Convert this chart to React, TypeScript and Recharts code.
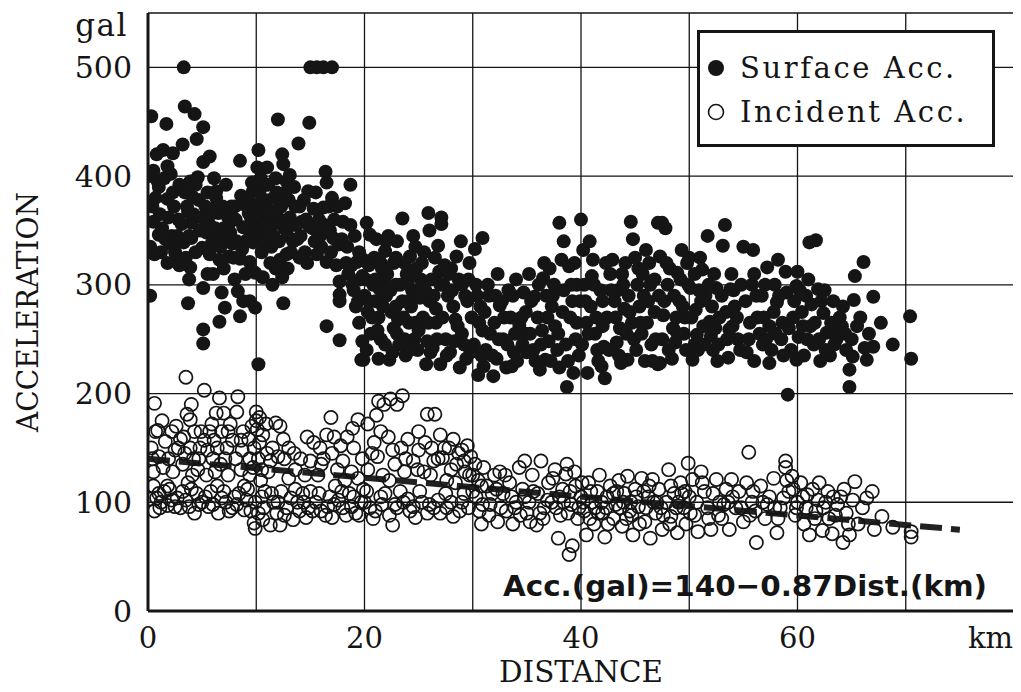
import { ScatterChart, Scatter, XAxis, YAxis, CartesianGrid, ReferenceLine, Legend, Label } from "recharts";

// distance (km), acceleration (gal)
const SURFACE_ACC: number[][] = [
  [0.2, 290], [0.3, 455], [0.3, 400], [0.5, 405], [0.5, 358], [0.6, 328], [0.8, 420], [0.9, 395], [1.0, 390], [1.0, 346],
  [1.2, 330], [1.4, 424], [1.7, 448], [1.8, 409], [1.8, 379], [1.8, 320], [2.2, 345], [2.3, 421], [2.3, 385], [2.5, 330],
  [2.6, 323], [2.8, 360], [3.0, 340], [3.2, 429], [3.3, 500], [3.3, 339], [3.4, 464], [3.6, 372], [3.7, 367], [3.7, 283],
  [3.8, 305], [3.9, 395], [3.9, 316], [4.0, 357], [4.0, 343], [4.1, 381], [4.3, 457], [4.5, 434], [4.6, 399], [4.8, 350],
  [5.0, 334], [5.1, 445], [5.1, 413], [5.1, 297], [5.1, 259], [5.1, 246],
  [0.4, 372], [0.7, 380], [1.1, 365], [1.3, 352], [1.5, 398], [1.9, 362], [2.0, 338], [2.1, 402], [2.4, 372], [2.7, 345],
  [2.9, 392], [3.1, 356], [3.4, 385], [3.5, 325], [3.8, 345], [4.2, 365], [4.4, 330], [4.7, 378], [4.9, 362], [0.2, 335],
  [1.6, 342], [2.9, 318], [4.4, 392],
  [5.5, 385], [5.7, 418], [5.7, 355], [5.7, 328], [6.0, 370], [6.3, 386], [6.3, 380], [6.4, 344], [6.5, 366], [6.6, 323],
  [6.6, 266], [6.8, 293], [7.0, 352], [7.1, 279], [7.3, 344], [7.4, 362], [7.4, 354], [7.5, 326], [7.8, 338], [8.0, 372],
  [8.3, 294], [8.5, 414], [8.5, 324], [8.5, 271], [8.8, 374], [8.8, 353], [8.8, 285], [9.0, 340], [9.3, 366], [9.4, 321],
  [9.4, 285], [9.5, 362], [9.6, 394], [9.7, 386], [9.7, 339], [9.8, 352], [9.9, 311], [9.9, 279],
  [5.3, 372], [5.4, 348], [5.8, 365], [5.9, 338], [6.1, 398], [6.2, 352], [6.7, 335], [6.9, 372], [7.2, 392], [7.6, 348],
  [7.7, 372], [7.9, 325], [8.1, 360], [8.2, 340], [8.6, 382], [8.7, 333], [9.1, 352], [9.2, 378], [9.5, 345], [9.8, 368],
  [6.0, 310], [7.0, 315], [8.0, 305], [9.0, 310], [5.5, 310],
  [10.1, 408], [10.1, 374], [10.2, 424], [10.2, 227], [10.3, 386], [10.3, 360], [10.4, 345], [10.5, 330], [10.6, 355], [10.6, 307],
  [10.8, 392], [11.0, 408], [11.0, 370], [11.1, 340], [11.3, 320], [11.4, 335], [11.5, 355], [11.5, 300], [11.6, 380], [11.8, 398],
  [12.0, 452], [12.0, 362], [12.2, 383], [12.2, 358], [12.2, 323], [12.4, 420], [12.4, 307], [12.5, 411], [12.5, 283], [12.8, 395],
  [12.8, 328], [13.1, 401], [13.1, 362], [13.4, 340], [13.6, 372], [13.8, 342], [13.9, 430], [14.2, 358], [14.5, 330], [14.7, 320],
  [14.8, 386], [14.9, 449], [14.9, 354],
  [10.0, 392], [10.2, 350], [10.4, 398], [10.5, 370], [10.7, 340], [10.8, 378], [10.9, 355], [11.1, 392], [11.2, 365], [11.3, 350],
  [11.6, 345], [11.7, 368], [11.9, 385], [12.1, 340], [12.3, 372], [12.6, 352], [12.7, 385], [12.9, 345], [13.0, 378], [13.3, 355],
  [13.5, 390], [13.7, 355], [14.0, 372], [14.1, 345], [14.4, 378], [14.6, 360], [13.2, 330], [14.0, 325], [11.8, 315], [12.9, 315],
  [15.0, 500], [15.3, 370], [15.6, 500], [15.6, 328], [15.9, 345], [16.2, 500], [16.2, 371], [16.4, 404], [16.5, 394], [16.5, 321],
  [16.5, 262], [16.8, 350], [17.0, 500], [17.0, 380], [17.1, 343], [17.6, 337], [17.7, 303], [17.7, 291], [17.7, 285], [17.7, 249],
  [18.0, 358], [18.3, 320], [18.5, 310], [18.7, 392], [18.7, 355], [18.9, 300], [19.0, 295], [19.2, 280], [19.3, 321], [19.4, 285],
  [19.5, 265], [19.6, 305], [19.7, 231], [19.8, 248], [19.9, 323], [19.9, 231], [20.0, 290], [20.3, 275],
  [15.2, 352], [15.5, 385], [15.8, 360], [16.0, 335], [16.3, 355], [16.7, 372], [16.9, 330], [17.2, 360], [17.4, 318], [17.9, 342],
  [18.2, 375], [18.4, 335], [18.8, 318], [19.1, 345], [19.5, 330], [19.8, 308], [15.4, 340], [17.5, 372],
  [20.2, 357], [20.5, 346], [21.1, 342], [21.9, 331], [22.9, 325], [23.5, 361], [24.2, 326], [24.7, 335], [20.4, 318], [20.8, 300],
  [21.0, 285], [21.3, 270], [20.6, 255], [20.2, 240], [21.5, 250], [21.8, 305], [22.0, 290], [22.3, 231], [22.5, 275], [22.7, 260],
  [22.9, 300], [23.2, 245], [23.5, 285], [23.8, 235], [23.9, 310], [24.1, 265], [24.4, 295], [24.6, 250], [24.8, 315], [20.9, 325],
  [21.6, 315], [22.2, 345], [23.0, 340], [23.7, 320], [24.3, 280], [24.9, 240], [22.6, 238], [21.3, 232], [21.4, 296], [23.1, 268],
  [24.0, 302],
  [20.1, 305], [20.4, 285], [20.7, 270], [21.0, 305], [21.2, 258], [21.5, 320], [21.7, 280], [21.9, 245], [22.1, 310], [22.4, 295],
  [22.7, 320], [22.9, 280], [23.0, 255], [23.3, 300], [23.6, 270], [23.7, 250], [24.0, 285], [24.2, 240], [24.5, 310], [24.7, 265],
  [24.9, 295], [22.0, 340], [24.5, 345],
  [25.2, 305], [25.5, 330], [25.7, 227], [25.9, 366], [26.0, 285], [26.3, 242], [26.5, 325], [26.6, 265], [26.8, 336], [27.0, 227],
  [27.1, 362], [27.1, 356], [27.3, 300], [27.5, 250], [27.9, 238], [28.0, 315], [28.2, 280], [28.5, 326], [28.6, 262], [28.8, 224],
  [29.0, 300], [29.2, 245], [29.5, 285], [29.7, 320], [29.9, 270], [25.4, 270], [26.2, 305], [27.7, 290], [28.9, 340], [29.4, 232],
  [25.8, 248], [26.9, 312], [25.1, 288], [26.6, 278], [27.4, 318], [28.3, 248], [29.6, 305],
  [25.0, 258], [25.3, 320], [25.6, 295], [25.9, 265], [26.1, 238], [26.4, 290], [26.7, 250], [27.0, 300], [27.2, 270], [27.6, 235],
  [27.8, 310], [28.1, 295], [28.4, 268], [28.7, 305], [29.0, 255], [29.3, 290], [29.8, 238], [26.0, 350],
  [30.2, 333], [30.5, 217], [30.9, 343], [30.3, 300], [30.7, 280], [30.9, 258], [31.2, 240], [31.5, 290], [31.9, 216], [32.0, 265],
  [32.3, 310], [32.5, 281], [32.8, 250], [33.1, 224], [33.3, 295], [33.5, 270], [33.8, 238], [34.0, 305], [34.3, 263], [34.6, 245],
  [34.7, 293], [35.0, 238], [31.0, 225], [32.2, 232], [33.6, 225], [34.9, 275], [30.6, 265], [31.4, 300], [32.7, 285], [33.9, 255],
  [30.1, 245], [30.4, 290], [30.8, 235], [31.1, 275], [31.6, 255], [31.8, 235], [32.1, 290], [32.4, 250], [32.9, 270], [33.2, 245],
  [33.7, 290], [34.1, 230], [34.5, 270], [34.9, 255],
  [35.3, 255], [35.7, 289], [36.0, 270], [36.5, 306], [36.7, 231], [37.0, 248], [37.3, 280], [37.6, 262], [38.0, 357], [38.0, 224],
  [38.2, 323], [38.4, 295], [38.7, 206], [38.9, 317], [39.0, 270], [39.3, 219], [39.5, 250], [39.6, 300], [39.8, 235], [36.2, 222],
  [37.8, 240], [39.2, 285], [36.8, 290], [35.8, 230], [35.2, 310], [36.4, 258], [37.5, 300], [38.6, 245], [39.4, 320],
  [35.4, 285], [35.6, 240], [36.1, 300], [36.3, 245], [36.9, 270], [37.2, 230], [37.4, 290], [37.9, 255], [38.3, 275], [38.8, 230],
  [39.1, 300], [39.6, 265], [39.9, 285], [36.6, 320], [38.4, 340], [37.1, 315],
  [40.0, 360], [40.2, 332], [40.3, 300], [40.6, 219], [40.8, 340], [40.9, 280], [41.1, 323], [41.3, 255], [41.5, 240], [41.8, 295],
  [42.1, 243], [42.2, 214], [42.4, 270], [42.7, 310], [42.9, 323], [43.1, 285], [43.3, 247], [43.6, 260], [43.9, 300], [44.1, 320],
  [44.3, 231], [44.5, 275], [44.6, 358], [44.8, 342], [44.9, 250], [41.9, 225], [43.7, 228], [40.5, 265], [41.0, 308], [42.0, 262],
  [43.4, 295], [44.0, 278],
  [40.1, 245], [40.4, 285], [40.7, 255], [41.2, 300], [41.4, 270], [41.6, 230], [42.0, 285], [42.3, 320], [42.6, 240], [42.8, 295],
  [43.2, 270], [43.5, 235], [43.8, 310], [44.2, 255], [44.4, 290], [44.7, 265],
  [45.2, 300], [45.5, 265], [45.8, 290], [46.0, 332], [46.3, 320], [46.5, 245], [46.8, 275], [47.1, 357], [47.1, 227], [47.3, 326],
  [47.3, 228], [47.5, 357], [47.6, 272], [47.8, 352], [48.0, 300], [48.2, 315], [48.5, 260], [48.7, 247], [48.9, 311], [49.1, 285],
  [49.3, 332], [49.4, 280], [49.7, 240], [49.9, 300], [45.9, 230], [46.9, 250], [48.4, 232], [45.3, 315], [45.6, 255], [46.4, 300],
  [47.7, 285], [48.8, 270], [49.5, 255],
  [45.0, 325], [45.1, 240], [45.4, 280], [45.7, 310], [46.1, 265], [46.2, 285], [46.6, 230], [46.8, 305], [47.2, 290], [47.5, 250],
  [47.9, 320], [48.1, 240], [48.6, 290], [48.9, 255], [49.2, 305], [49.6, 270], [49.8, 320],
  [50.0, 325], [50.1, 297], [50.3, 231], [50.6, 277], [50.7, 254], [51.0, 325], [51.2, 314], [51.5, 290], [51.7, 345], [51.9, 266],
  [52.0, 253], [52.2, 240], [52.5, 297], [52.8, 270], [53.1, 336], [53.3, 355], [53.6, 233], [53.7, 259], [53.9, 310], [53.8, 296],
  [54.2, 280], [54.5, 250], [54.8, 300], [50.5, 245], [52.6, 230], [51.3, 262], [50.9, 295], [52.3, 310], [53.4, 275], [54.0, 262],
  [50.2, 270], [50.5, 310], [50.8, 240], [51.1, 285], [51.4, 245], [51.8, 300], [52.1, 280], [52.4, 260], [52.7, 245], [53.0, 290],
  [53.5, 250], [54.1, 295], [54.4, 270], [54.7, 240],
  [55.0, 335], [55.3, 238], [55.6, 265], [55.9, 332], [56.2, 290], [56.5, 255], [56.8, 245], [57.2, 316], [57.4, 262], [57.4, 228],
  [57.8, 275], [58.1, 284], [58.2, 323], [58.5, 250], [58.9, 312], [59.0, 293], [59.1, 199], [59.4, 240], [59.9, 299], [59.9, 231],
  [56.0, 230], [57.0, 300], [58.6, 265], [55.8, 300], [56.9, 270], [58.0, 255], [59.6, 270],
  [55.2, 285], [55.5, 250], [56.0, 310], [56.3, 270], [56.7, 290], [57.1, 250], [57.6, 240], [57.9, 300], [58.3, 290], [58.7, 235],
  [59.2, 260], [59.7, 285],
  [60.0, 312], [60.1, 252], [60.4, 275], [60.8, 290], [61.1, 339], [61.2, 262], [61.5, 245], [61.7, 341], [61.9, 296], [62.4, 274],
  [62.7, 256], [63.0, 235], [63.3, 285], [63.6, 250], [64.1, 262], [64.5, 240], [64.8, 222], [64.8, 206], [60.6, 235], [62.1, 230],
  [63.9, 270], [61.0, 305], [62.5, 295], [63.5, 262],
  [60.2, 295], [60.5, 262], [60.9, 250], [61.3, 282], [61.6, 265], [62.0, 250], [62.2, 285], [62.6, 240], [63.1, 265], [63.4, 245],
  [63.8, 255], [64.2, 280], [64.4, 255],
  [65.1, 234], [65.2, 286], [65.3, 308], [65.5, 262], [66.1, 321], [66.2, 242], [66.4, 231], [67.0, 289], [67.0, 243], [67.7, 265],
  [68.8, 245], [70.4, 271], [70.5, 232], [65.0, 250], [65.8, 270], [66.6, 255],
];

const INCIDENT_ACC: number[][] = [
  [0.2, 103], [0.4, 140], [0.5, 128], [0.6, 191], [0.6, 92], [0.7, 165], [0.9, 166], [1.0, 108], [1.2, 100], [1.4, 132],
  [1.6, 156], [1.8, 97], [2.0, 112], [2.2, 165], [2.3, 128], [2.5, 148], [2.7, 104], [2.8, 150], [3.0, 95], [3.2, 135],
  [3.3, 160], [3.5, 215], [3.6, 181], [3.7, 118], [3.9, 176], [3.9, 150], [4.0, 190], [4.2, 140], [4.3, 165], [4.3, 90],
  [4.5, 108], [4.6, 130], [4.8, 150], [4.9, 165], [5.0, 100], [0.8, 104], [1.5, 110], [2.5, 96], [3.5, 102], [4.0, 112],
  [0.3, 150], [1.0, 142], [1.3, 175], [1.9, 140], [2.6, 170], [3.0, 158], [3.4, 145], [4.1, 125], [4.7, 140], [0.5, 115],
  [1.1, 95], [1.8, 115], [2.2, 102], [3.2, 110], [3.8, 96], [4.7, 98],
  [5.2, 203], [5.2, 157], [5.4, 125], [5.6, 96], [5.7, 165], [6.0, 140], [6.1, 157], [6.2, 128], [6.3, 182], [6.4, 150],
  [6.5, 90], [6.6, 196], [6.8, 165], [7.0, 182], [7.0, 110], [7.2, 100], [7.3, 150], [7.4, 165], [7.4, 125], [7.8, 157],
  [8.0, 105], [8.2, 183], [8.3, 197], [8.6, 157], [8.6, 130], [8.7, 148], [8.9, 93], [9.2, 112], [9.4, 140], [9.4, 125],
  [9.6, 170], [9.8, 150], [9.8, 81], [9.9, 100], [9.9, 76], [5.3, 105], [6.0, 98], [6.8, 104], [7.8, 95], [8.4, 108], [9.1, 102],
  [5.5, 148], [5.9, 172], [6.7, 135], [7.1, 140], [7.6, 172], [8.1, 140], [8.8, 165], [9.3, 158], [9.7, 132], [5.8, 110],
  [6.4, 115], [7.5, 92], [8.2, 98], [8.9, 115], [9.5, 92],
  [10.0, 183], [10.0, 175], [10.1, 167], [10.2, 140], [10.3, 178], [10.4, 120], [10.5, 105], [10.5, 130], [10.7, 95], [10.9, 172],
  [11.1, 128], [11.3, 79], [11.5, 150], [11.6, 100], [11.8, 173], [12.0, 142], [12.2, 170], [12.2, 79], [12.3, 110], [12.6, 140],
  [12.8, 95], [13.0, 122], [13.4, 84], [13.6, 130], [13.8, 100], [14.1, 140], [14.3, 108], [14.6, 86], [14.7, 160], [14.8, 95],
  [10.8, 110], [11.9, 90], [13.2, 104], [14.0, 92], [11.0, 145], [13.0, 150], [14.5, 125],
  [10.2, 90], [10.6, 84], [11.4, 108], [12.0, 100], [12.6, 88], [13.6, 112], [14.4, 100], [10.3, 155], [10.6, 162], [11.3, 138],
  [12.5, 158], [13.5, 145],
  [15.3, 155], [15.5, 100], [15.7, 125], [16.0, 92], [16.2, 140], [16.5, 162], [16.8, 105], [16.9, 178], [17.0, 86], [17.3, 115],
  [17.5, 130], [17.8, 152], [18.0, 95], [18.4, 160], [18.6, 108], [18.8, 128], [19.0, 150], [19.2, 90], [19.4, 176], [19.4, 122],
  [19.7, 100], [19.9, 112], [15.0, 110], [16.6, 96], [17.6, 102], [18.3, 88], [19.0, 105], [16.0, 135], [17.0, 145], [18.2, 120],
  [19.8, 140], [15.2, 92], [15.8, 108], [16.4, 88], [17.2, 98], [17.9, 110], [18.8, 96], [19.5, 88], [15.0, 138], [15.9, 150],
  [17.2, 160], [18.0, 138], [18.9, 168],
  [20.3, 172], [20.3, 130], [20.5, 95], [20.9, 155], [21.1, 180], [21.3, 193], [21.5, 105], [21.7, 125], [21.8, 190], [22.2, 160],
  [22.4, 195], [22.6, 79], [22.8, 135], [22.8, 98], [23.0, 190], [23.3, 110], [23.5, 198], [23.7, 128], [24.0, 158], [24.2, 92],
  [24.7, 86], [24.9, 130], [25.0, 148], [20.0, 100], [21.0, 92], [21.9, 108], [23.0, 95], [24.0, 103], [21.2, 142], [22.3, 120],
  [23.4, 150], [24.5, 138], [20.2, 110], [20.8, 85], [21.6, 98], [22.3, 88], [23.6, 100], [24.5, 96], [20.7, 145], [21.5, 165],
  [22.6, 148], [23.8, 140],
  [25.3, 100], [25.6, 155], [25.8, 181], [26.1, 125], [26.4, 95], [26.5, 181], [26.8, 140], [27.0, 162], [27.2, 141], [27.5, 108],
  [27.8, 150], [28.0, 130], [28.2, 87], [28.4, 118], [28.7, 145], [29.0, 100], [29.2, 138], [29.5, 152], [29.7, 125], [30.0, 110],
  [29.3, 128], [29.8, 142], [30.2, 135], [30.5, 120], [29.6, 95], [25.8, 90], [26.8, 102], [27.6, 95], [28.8, 92], [25.5, 128],
  [26.2, 150], [27.6, 120], [28.5, 135], [25.1, 110], [26.0, 98], [27.0, 90], [28.0, 100], [29.2, 108], [25.0, 165], [26.4, 138],
  [27.4, 150], [28.2, 158], [29.0, 148],
  [30.3, 105], [30.6, 92], [30.8, 80], [31.0, 132], [31.3, 115], [31.6, 98], [32.0, 125], [32.3, 82], [32.5, 128], [32.8, 108],
  [33.1, 92], [33.4, 118], [33.7, 80], [34.0, 100], [34.3, 132], [34.6, 112], [34.8, 138], [35.0, 90], [30.9, 98], [31.8, 108],
  [32.6, 95], [33.6, 105], [34.4, 88], [30.0, 125], [30.8, 115], [31.5, 88], [32.2, 112], [33.0, 125], [33.9, 95], [34.8, 105],
  [35.3, 82], [35.5, 125], [35.9, 79], [36.0, 108], [36.3, 138], [36.6, 95], [37.0, 118], [37.3, 100], [37.6, 130], [37.9, 67],
  [38.1, 88], [38.3, 112], [38.6, 126], [38.7, 135], [38.9, 52], [39.1, 98], [39.2, 60], [39.5, 115], [39.7, 85], [40.0, 105],
  [35.2, 100], [36.2, 90], [36.9, 102], [37.7, 95], [38.4, 100], [39.0, 110], [39.8, 95], [35.6, 110], [36.5, 85], [37.4, 122],
  [38.0, 105], [38.8, 90], [39.4, 128],
  [40.3, 92], [40.5, 70], [40.7, 118], [41.0, 100], [41.2, 80], [41.5, 110], [41.7, 125], [42.0, 90], [42.2, 68], [42.4, 105],
  [42.7, 115], [43.0, 85], [43.2, 98], [43.5, 120], [43.8, 78], [44.0, 108], [44.3, 124], [44.5, 92], [44.8, 70], [45.0, 112],
  [40.8, 85], [41.9, 100], [43.3, 110], [44.6, 100], [40.1, 118], [41.3, 95], [42.5, 80], [43.6, 95], [44.2, 85], [40.2, 100],
  [40.9, 110], [41.6, 90], [42.3, 95], [43.0, 108], [43.9, 100], [44.7, 88],
  [45.3, 96], [45.6, 122], [45.9, 82], [46.2, 105], [46.4, 67], [46.6, 121], [46.9, 90], [47.2, 112], [47.5, 75], [47.9, 100],
  [48.1, 130], [48.3, 87], [48.6, 108], [48.9, 72], [49.2, 118], [49.5, 95], [49.7, 80], [49.9, 136], [50.0, 105], [46.0, 95],
  [47.0, 100], [48.8, 95], [45.1, 105], [45.8, 110], [46.7, 100], [47.6, 88], [48.3, 115], [49.0, 100], [49.6, 110], [45.4, 80],
  [46.3, 115], [47.4, 95], [48.2, 80], [49.3, 108],
  [50.3, 121], [50.5, 88], [50.8, 73], [51.1, 128], [51.4, 110], [51.7, 95], [52.0, 75], [52.5, 121], [52.8, 100], [53.0, 85],
  [53.4, 112], [53.7, 75], [53.9, 121], [54.3, 95], [54.6, 110], [55.0, 82], [50.7, 100], [51.8, 85], [52.2, 108], [53.2, 98],
  [54.0, 105], [50.1, 90], [51.2, 118], [52.7, 88], [53.6, 100], [54.8, 95],
  [55.3, 118], [55.5, 146], [55.8, 100], [56.1, 92], [56.2, 63], [56.6, 115], [57.0, 85], [57.4, 105], [57.8, 122], [58.1, 72],
  [58.4, 95], [58.9, 132], [58.9, 138], [59.2, 110], [59.5, 124], [59.8, 88], [60.0, 100], [55.6, 88], [56.8, 100], [57.9, 95],
  [58.7, 104], [59.6, 112], [55.9, 110], [57.2, 98], [58.2, 85], [59.0, 120], [59.9, 95],
  [60.3, 118], [60.6, 80], [60.9, 107], [61.1, 70], [61.4, 112], [61.7, 92], [62.0, 118], [62.3, 74], [62.6, 100], [62.9, 85],
  [63.2, 71], [63.7, 98], [64.0, 105], [64.2, 63], [64.5, 90], [64.8, 70], [65.1, 102], [60.8, 95], [61.9, 102], [62.8, 110],
  [63.5, 88], [64.3, 112], [60.5, 105], [61.6, 85], [62.4, 95], [63.3, 105], [64.7, 80],
  [65.3, 119], [65.6, 80], [66.0, 95], [66.4, 104], [66.9, 110], [67.1, 75], [67.8, 87], [68.8, 77], [70.5, 73], [70.5, 68],
];

// Acc.(gal) = 140 - 0.87 Dist.(km), drawn from 0 to 75 km
const FIT_LINE = [
  { x: 0, y: 140 },
  { x: 75, y: 74.8 },
];

const X_TICKS = [0, 10, 20, 30, 40, 50, 60, 70, 80];
const Y_TICKS = [0, 100, 200, 300, 400, 500];
const Y_MINOR_TICKS = [50, 150, 250, 350, 450];

const SERIF = "'DejaVu Serif', 'Liberation Serif', serif";
const INK = "#151515";

const surfaceData = SURFACE_ACC.map(([x, y]) => ({ x, y }));
const incidentData = INCIDENT_ACC.map(([x, y]) => ({ x, y }));

const FilledDot = (p: any) => <circle cx={p.cx} cy={p.cy} r={7} fill={INK} />;
const OpenDot = (p: any) => (
  <circle cx={p.cx} cy={p.cy} r={6.6} fill="none" stroke={INK} strokeWidth={1.7} />
);

function DistanceTick({ x, y, payload }: any) {
  const v = payload.value;
  let text = "";
  if (v === 80) text = "km";
  else if (v % 20 === 0) text = String(v);
  if (!text) return null;
  return (
    <text x={x} y={y} dy={37} textAnchor={v === 80 ? "end" : "middle"} fontFamily={SERIF} fontSize={29} fill={INK}>
      {text}
    </text>
  );
}

function LegendBox() {
  const row = { position: "absolute" as const, left: 40, transform: "translateY(-50%)", whiteSpace: "nowrap" as const };
  return (
    <div
      style={{
        position: "relative",
        width: 292,
        height: 111,
        border: `3px solid ${INK}`,
        background: "#fff",
        fontFamily: SERIF,
        fontSize: 29,
        letterSpacing: 2.6,
        color: INK,
      }}
    >
      <svg width={30} height={100} style={{ position: "absolute", left: 2, top: 0 }}>
        <circle cx={14} cy={35} r={8} fill={INK} />
        <circle cx={14} cy={79} r={7.5} fill="none" stroke={INK} strokeWidth={1.6} />
      </svg>
      <div style={{ ...row, top: 35 }}>Surface Acc.</div>
      <div style={{ ...row, top: 79 }}>Incident Acc.</div>
    </div>
  );
}

export default function App() {
  return (
    <div style={{ width: 1013, height: 684, background: "#fff" }}>
      <ScatterChart
        width={1013}
        height={684}
        margin={{ top: 5, right: 7, bottom: 0, left: 0 }}
        style={{ fontFamily: SERIF }}
      >
        <CartesianGrid stroke={INK} strokeWidth={1.3} />
        <XAxis
          type="number"
          dataKey="x"
          domain={[0, 80]}
          ticks={X_TICKS}
          allowDataOverflow
          height={81}
          tickSize={0}
          tickMargin={0}
          tickLine={false}
          axisLine={{ stroke: INK, strokeWidth: 3 }}
          tick={<DistanceTick />}
        >
          <Label
            content={(props: any) => {
              const vb = props.viewBox;
              return (
                <g>
                  <text
                    x={vb.x + vb.width / 2}
                    y={vb.y + 71}
                    textAnchor="middle"
                    textLength={164}
                    lengthAdjust="spacingAndGlyphs"
                    fontFamily={SERIF}
                    fontSize={29}
                    fill={INK}
                  >
                    DISTANCE
                  </text>
                  <text
                    x={vb.x + vb.width - 27}
                    y={vb.y - 15}
                    textAnchor="end"
                    textLength={484}
                    lengthAdjust="spacingAndGlyphs"
                    fontFamily="'DejaVu Sans', sans-serif"
                    fontWeight="bold"
                    fontSize={29}
                    fill={INK}
                  >
                    Acc.(gal)=140−0.87Dist.(km)
                  </text>
                </g>
              );
            }}
          />
        </XAxis>
        <XAxis
          xAxisId="top"
          orientation="top"
          type="number"
          domain={[0, 80]}
          allowDataOverflow
          height={0}
          tick={false}
          tickLine={false}
          axisLine={{ stroke: INK, strokeWidth: 3 }}
        />
        <YAxis
          type="number"
          dataKey="y"
          domain={[0, 550]}
          ticks={Y_TICKS}
          allowDataOverflow
          width={140}
          tickSize={0}
          tickMargin={16}
          tickLine={false}
          axisLine={{ stroke: INK, strokeWidth: 3 }}
          tick={{ fontFamily: SERIF, fontSize: 30, fill: INK }}
        >
          <Label
            content={(props: any) => {
              const vb = props.viewBox;
              const cy = vb.y + vb.height / 2;
              return (
                <g>
                  <text
                    x={20}
                    y={cy}
                    transform={`rotate(-90, 20, ${cy})`}
                    textAnchor="middle"
                    dominantBaseline="central"
                    textLength={240}
                    lengthAdjust="spacingAndGlyphs"
                    fontFamily={SERIF}
                    fontSize={29}
                    fill={INK}
                  >
                    ACCELERATION
                  </text>
                  <text
                    x={vb.x + vb.width - 20}
                    y={vb.y + 23}
                    textAnchor="end"
                    letterSpacing={1.5}
                    fontFamily={SERIF}
                    fontSize={31}
                    fill={INK}
                  >
                    gal
                  </text>
                </g>
              );
            }}
          />
        </YAxis>
        <YAxis
          yAxisId="minorLeft"
          orientation="left"
          mirror
          width={0}
          type="number"
          domain={[0, 550]}
          ticks={Y_MINOR_TICKS}
          allowDataOverflow
          tickSize={10}
          axisLine={false}
          tickLine={{ stroke: INK, strokeWidth: 2 }}
          tickFormatter={() => ""}
        />
        <YAxis
          yAxisId="right"
          orientation="right"
          mirror
          width={0}
          type="number"
          domain={[0, 550]}
          ticks={Y_MINOR_TICKS}
          allowDataOverflow
          tickSize={10}
          axisLine={{ stroke: INK, strokeWidth: 3 }}
          tickLine={{ stroke: INK, strokeWidth: 2 }}
          tickFormatter={() => ""}
        />
        <Scatter name="Incident Acc." data={incidentData} shape={OpenDot} isAnimationActive={false} />
        <Scatter name="Surface Acc." data={surfaceData} shape={FilledDot} isAnimationActive={false} />
        <ReferenceLine
          segment={FIT_LINE}
          stroke="#222"
          strokeWidth={6}
          strokeDasharray="22 9"
          ifOverflow="visible"
        />
        <Legend
          layout="vertical"
          align="center"
          verticalAlign="middle"
          wrapperStyle={{ left: 689, top: 22, width: 298, height: 117 }}
          content={() => <LegendBox />}
        />
      </ScatterChart>
    </div>
  );
}
